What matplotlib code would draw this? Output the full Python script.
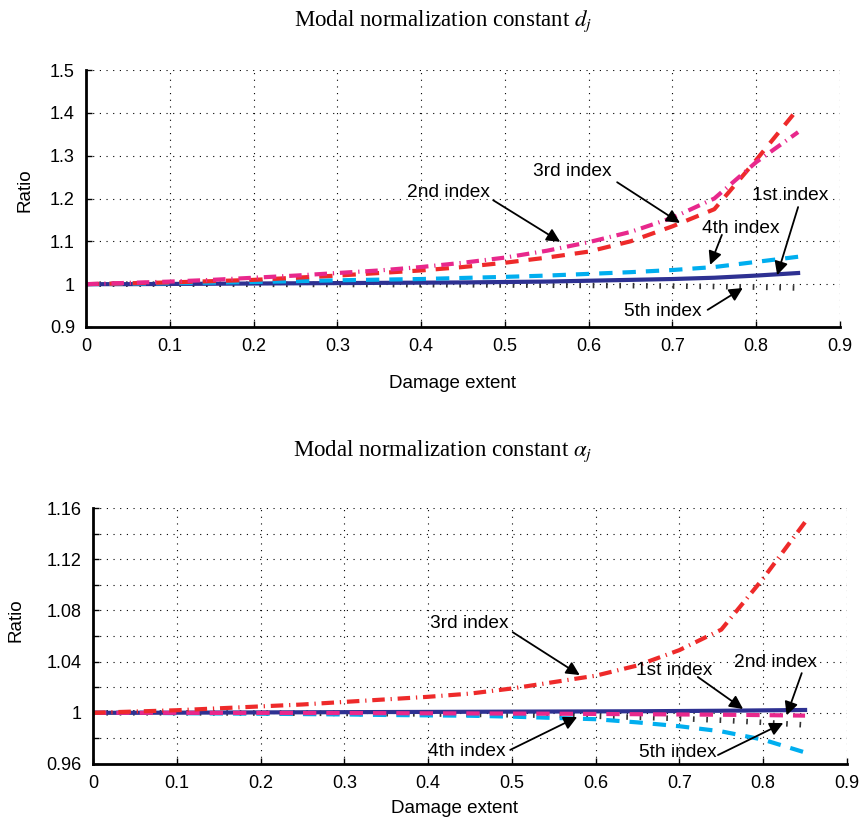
"""
Modal normalization constant ratios vs damage extent
"""
import matplotlib
matplotlib.use('Agg')
import matplotlib.pyplot as plt

plt.rcParams['font.family'] = ['Liberation Sans', 'DejaVu Sans']
plt.rcParams['mathtext.fontset'] = 'stix'

# damage extent
extent = [0, 0.05, 0.1, 0.15, 0.2, 0.25, 0.3, 0.35, 0.4, 0.45,
          0.5, 0.55, 0.6, 0.65, 0.7, 0.75, 0.8, 0.85]

# top panel: d_j ratio
d_1st = [1.0, 1.0, 1.0005, 1.001, 1.0015, 1.002, 1.0025, 1.003, 1.0035, 1.004,
         1.005, 1.006, 1.008, 1.010, 1.012, 1.015, 1.020, 1.026]
d_2nd = [1.0, 1.003, 1.006, 1.010, 1.015, 1.020, 1.026, 1.032, 1.040, 1.050,
         1.062, 1.078, 1.098, 1.122, 1.155, 1.200, 1.285, 1.355]
d_3rd = [1.0, 1.002, 1.004, 1.007, 1.010, 1.015, 1.020, 1.026, 1.032, 1.040,
         1.050, 1.062, 1.076, 1.100, 1.135, 1.175, 1.290, 1.410]
d_4th = [1.0, 1.001, 1.002, 1.0035, 1.005, 1.007, 1.009, 1.0105, 1.012, 1.0145,
         1.017, 1.020, 1.024, 1.028, 1.033, 1.040, 1.052, 1.064]
d_5th = [1.0, 1.0, 1.0, 0.9998, 0.9996, 0.9994, 0.9992, 0.999, 0.9988, 0.9985,
         0.998, 0.9975, 0.997, 0.9965, 0.9955, 0.9945, 0.993, 0.991]

# bottom panel: alpha_j ratio
a_1st = [1.0, 1.0, 1.0001, 1.0002, 1.0003, 1.0004, 1.0005, 1.0006, 1.0007, 1.0008,
         1.0009, 1.001, 1.0011, 1.0012, 1.0014, 1.0016, 1.0019, 1.0022]
a_2nd = [1.0, 1.0, 1.0, 0.9999, 0.9999, 0.9998, 0.9998, 0.9997, 0.9996, 0.9995,
         0.9994, 0.9993, 0.9991, 0.9989, 0.9987, 0.9985, 0.9982, 0.9978]
a_3rd = [1.0, 1.001, 1.002, 1.0035, 1.005, 1.0065, 1.0085, 1.0105, 1.0125, 1.015,
         1.019, 1.024, 1.029, 1.037, 1.049, 1.065, 1.105, 1.149]
a_4th = [1.0, 1.0, 0.9997, 0.9995, 0.9993, 0.999, 0.9987, 0.9983, 0.998, 0.9977,
         0.997, 0.996, 0.995, 0.9925, 0.9895, 0.9855, 0.979, 0.969]
a_5th = [1.0, 1.0, 1.0, 0.9999, 0.9998, 0.9997, 0.9995, 0.9993, 0.9991, 0.9988,
         0.9984, 0.998, 0.9973, 0.9965, 0.9955, 0.9942, 0.9925, 0.9905]

x_ticks = [0, 0.1, 0.2, 0.3, 0.4, 0.5, 0.6, 0.7, 0.8, 0.9]
x_labels = ['0', '0.1', '0.2', '0.3', '0.4', '0.5', '0.6', '0.7', '0.8', '0.9']
d_ticks = [0.9, 1.0, 1.1, 1.2, 1.3, 1.4, 1.5]
d_labels = ['0.9', '1', '1.1', '1.2', '1.3', '1.4', '1.5']
a_ticks = [0.96, 0.98, 1.0, 1.02, 1.04, 1.06, 1.08, 1.10, 1.12, 1.14, 1.16]
a_labels = ['0.96', '', '1', '', '1.04', '', '1.08', '', '1.12', '', '1.16']

NAVY = '#2e3192'
CYAN = '#00aeef'
MAGENTA = '#e8288c'
RED = '#ee2a2a'

fig = plt.figure(figsize=(8.61, 8.23), dpi=100)
ax1 = fig.add_axes([0.0999, 0.6027, 0.8757, 0.3122])
ax2 = fig.add_axes([0.1080, 0.0717, 0.8757, 0.3110])

dash = (3.2, 2.4)
dashdot = (3.0, 1.4, 0.3, 1.4)
dots = (0.3, 2.1)
FS = 13.8


def style_axes(ax, yticks, ylabels, ylim):
    ax.set_xlim(0, 0.9)
    ax.set_ylim(*ylim)
    ax.set_xticks(x_ticks)
    ax.set_xticklabels(x_labels)
    ax.set_yticks(yticks)
    ax.set_yticklabels(ylabels)
    ax.tick_params(direction='in', length=4, width=1, labelsize=13, pad=8)
    ax.grid(True, color='black', linestyle=(0, (1, 5)), linewidth=0.8)
    for side in ['top', 'right']:
        ax.spines[side].set_visible(False)
    for side in ['left', 'bottom']:
        ax.spines[side].set_linewidth(2)
    ax.set_xlabel('Damage extent', fontsize=13.5)
    ax.set_ylabel('Ratio', fontsize=13.5)


def arrow(ax, tail, tip):
    ax.annotate('', xy=tip, xytext=tail,
                arrowprops=dict(arrowstyle='-|>', color='black', lw=1.3,
                                mutation_scale=20, shrinkA=0, shrinkB=0))


# top panel
ax1.plot(extent, d_5th, color='#333333', lw=4, dashes=dots, dash_capstyle='butt')
ax1.plot(extent, d_1st, color=NAVY, lw=3)
ax1.plot(extent, d_4th, color=CYAN, lw=3, dashes=dash, dash_capstyle='butt')
ax1.plot(extent, d_3rd, color=RED, lw=3, dashes=dash, dash_capstyle='butt')
ax1.plot(extent, d_2nd, color=MAGENTA, lw=3, dashes=dashdot, dash_capstyle='butt')
style_axes(ax1, d_ticks, d_labels, (0.9, 1.5))
ax1.yaxis.set_label_coords(-0.069, 0.533)
ax1.xaxis.set_label_coords(0.486, -0.187)

ax1.text(0.433, 1.215, '2nd index', fontsize=FS, ha='center', va='center')
arrow(ax1, (0.486, 1.196), (0.566, 1.099))
ax1.text(0.580, 1.262, '3rd index', fontsize=FS, ha='center', va='center')
arrow(ax1, (0.634, 1.238), (0.709, 1.143))
ax1.text(0.841, 1.208, '1st index', fontsize=FS, ha='center', va='center')
arrow(ax1, (0.850, 1.180), (0.825, 1.021))
ax1.text(0.782, 1.129, '4th index', fontsize=FS, ha='center', va='center')
arrow(ax1, (0.759, 1.115), (0.745, 1.045))
ax1.text(0.689, 0.935, '5th index', fontsize=FS, ha='center', va='center')
arrow(ax1, (0.742, 0.940), (0.784, 0.991))

# bottom panel
ax2.plot(extent, a_5th, color='#333333', lw=4, dashes=dots, dash_capstyle='butt')
ax2.plot(extent, a_4th, color=CYAN, lw=3, dashes=dash, dash_capstyle='butt')
ax2.plot(extent, a_1st, color=NAVY, lw=3)
ax2.plot(extent, a_2nd, color=MAGENTA, lw=3, dashes=dash, dash_capstyle='butt')
ax2.plot(extent, a_3rd, color=RED, lw=3, dashes=dashdot, dash_capstyle='butt')
style_axes(ax2, a_ticks, a_labels, (0.96, 1.16))
ax2.yaxis.set_label_coords(-0.091, 0.56)
ax2.xaxis.set_label_coords(0.48, -0.14)

ax2.text(0.449, 1.070, '3rd index', fontsize=FS, ha='center', va='center')
arrow(ax2, (0.501, 1.063), (0.581, 1.0295))
ax2.text(0.694, 1.033, '1st index', fontsize=FS, ha='center', va='center')
arrow(ax2, (0.722, 1.028), (0.776, 1.003))
ax2.text(0.815, 1.039, '2nd index', fontsize=FS, ha='center', va='center')
arrow(ax2, (0.846, 1.031), (0.828, 0.998))
ax2.text(0.446, 0.9694, '4th index', fontsize=FS, ha='center', va='center')
arrow(ax2, (0.498, 0.971), (0.578, 0.9967))
ax2.text(0.698, 0.969, '5th index', fontsize=FS, ha='center', va='center')
arrow(ax2, (0.746, 0.967), (0.824, 0.992))

# titles
fig.text(443 / 861, 1 - 21 / 823, 'Modal normalization constant $d_j$',
         family='Liberation Serif', fontsize=16.5, ha='center', va='center')
fig.text(443 / 861, 1 - 451 / 823, r'Modal normalization constant $\alpha_j$',
         family='Liberation Serif', fontsize=16.5, ha='center', va='center')

fig.savefig('out.png', dpi=100)
plt.close(fig)
